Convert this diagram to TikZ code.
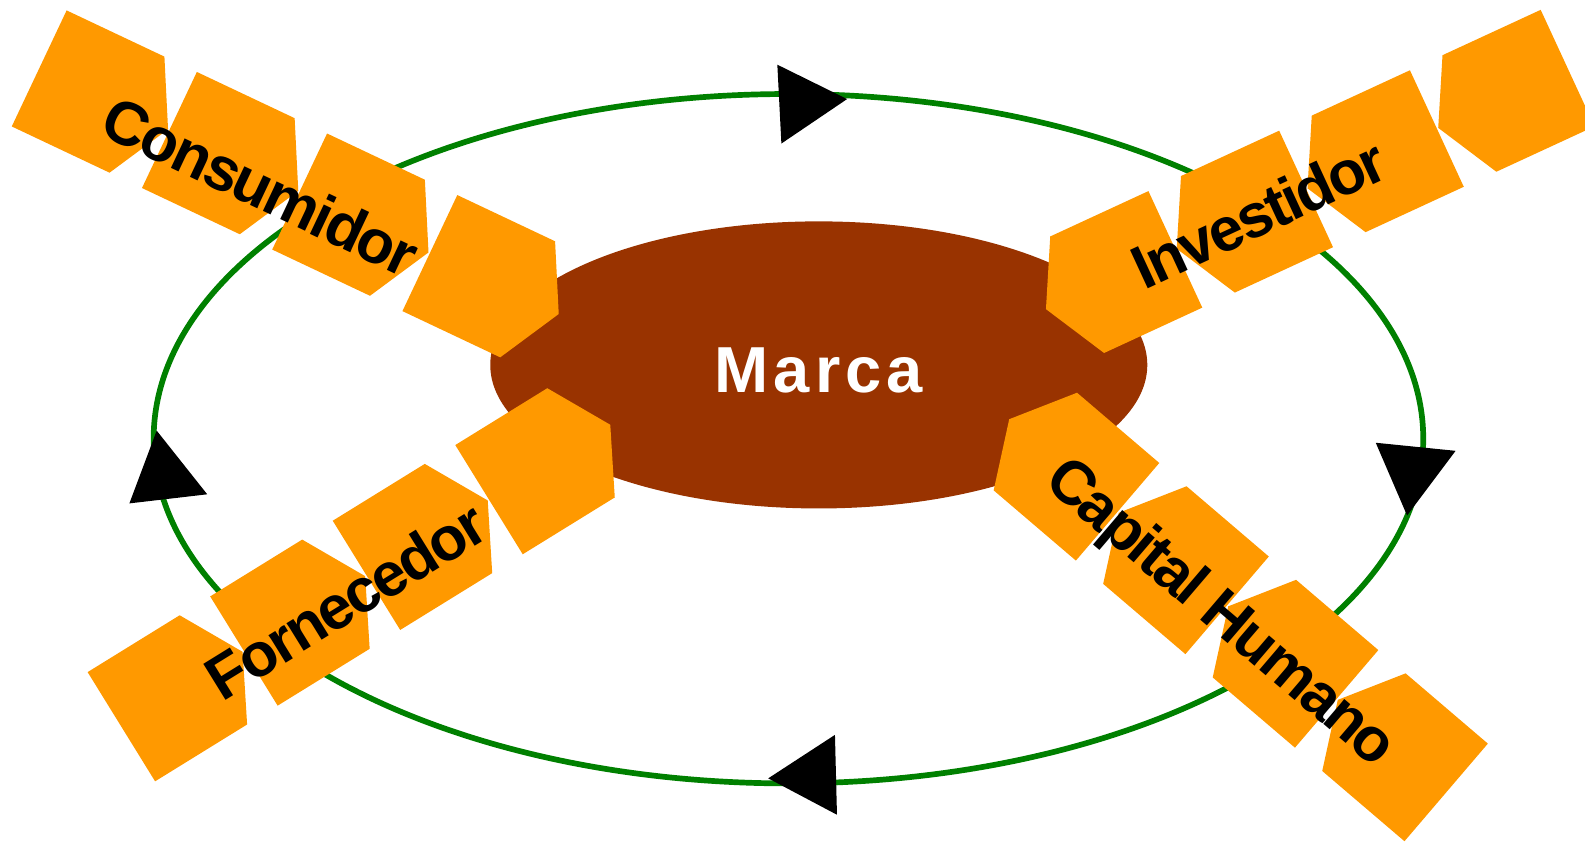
\documentclass[tikz,border=0pt]{standalone}
\usepackage{fontspec}
\setmainfont{Liberation Sans}
\newfontfamily\tightfont[LetterSpace=-4]{Liberation Sans}
\newfontfamily\widefont[LetterSpace=8]{Liberation Sans}
\usepackage{tikz}
\usetikzlibrary{arrows.meta}
\definecolor{ringgreen}{RGB}{0,128,0}
\definecolor{brandbrown}{RGB}{153,51,0}
\definecolor{boxorange}{RGB}{255,153,0}

\begin{document}
\begin{tikzpicture}[x=0.01cm, y=-0.01cm,
    box/.style={fill=boxorange},
    lbl/.style={font=\tightfont\bfseries\fontsize{17.3}{19}\selectfont, inner sep=0pt},
    head/.style={fill=black}]

 \useasboundingbox (0,0) rectangle (1568,833);

 % Ring
 \draw[ringgreen, line width=1.6pt] (780,434) ellipse [x radius=628, y radius=341];

 % Brand
 \fill[brandbrown] (810,361) ellipse [x radius=325, y radius=142];
 \node[font=\widefont\bfseries\fontsize{18.3}{20}\selectfont, text=white, inner sep=0pt] (marca) at (810,366) {Marca};

 % Chains (innermost centre, turn)
 \foreach \cx/\cy/\rot in {489/280.5/-25.3, 1098.75/276.25/-155.2, 543.75/457.25/31.7, 1052/460.5/139.5}{
   \foreach \k in {0,...,3}{
     \fill[box, shift={(\cx,\cy)}, rotate=\rot, shift={(-\k*142.5,0)}]
        (-70.5,-63.5) -- (36.5,-63.5) -- (70.5,0) -- (36.5,63.5) -- (-70.5,63.5) -- cycle;
   }
 }

 % Labels
 \node[lbl, rotate=-25.3] (consumidor) at (258,184) {Consumidor};
 \node[lbl, rotate=24.8] (investidor) at (1245,211) {Investidor};
 \node[lbl, rotate=31.7] (fornecedor) at (342,594) {Fornecedor};
 \node[lbl, rotate=-40.5] (capital) at (1206,608) {Capital Humano};

 % Arrow heads
 \foreach \ax/\ay/\bx/\by/\tx/\ty in {769/64/773/142/838/98, 1361/438/1440/446/1392/510,
                                     826/727/828/806/760/770, 128/498/205/489/155/426}{
   \fill[head] (\ax,\ay) -- (\tx,\ty) -- (\bx,\by) -- cycle;
 }

\end{tikzpicture}
\end{document}
